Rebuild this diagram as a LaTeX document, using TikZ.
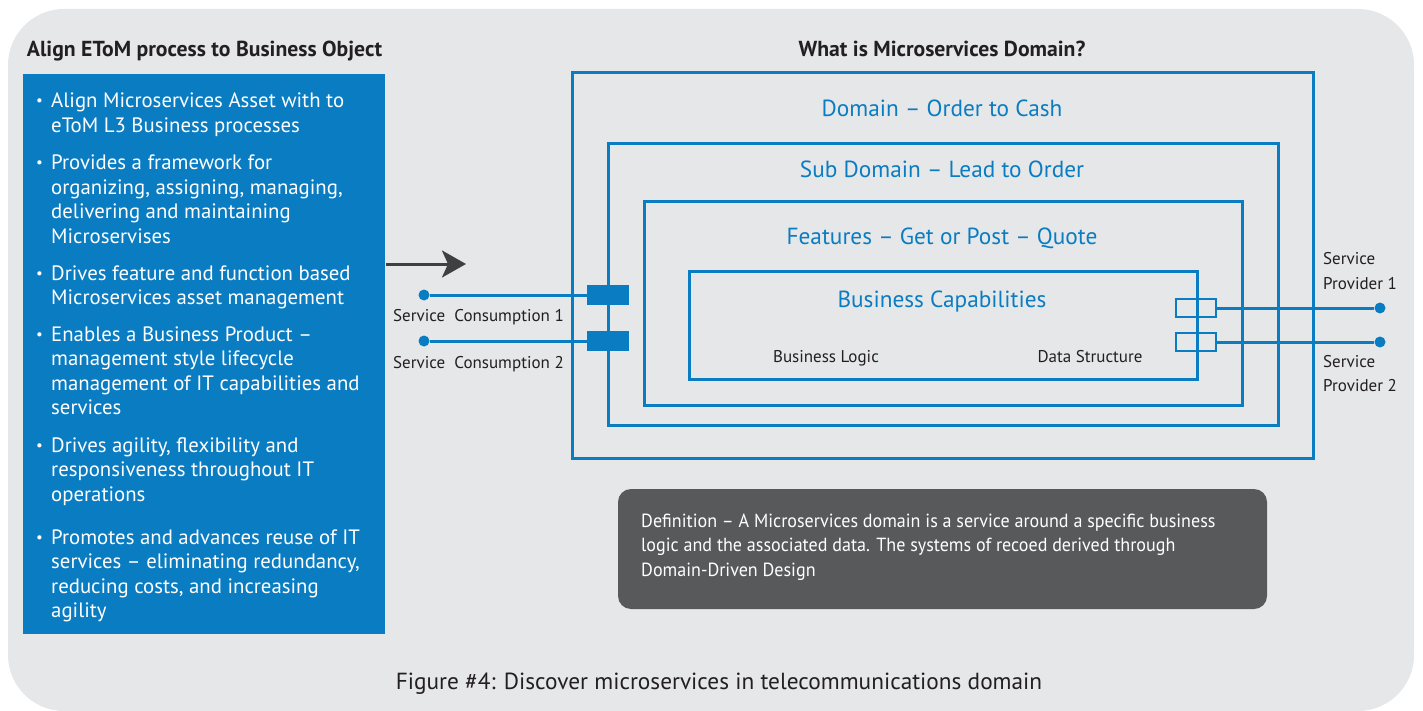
\documentclass[tikz,border=0pt]{standalone}
\usepackage{fontspec}
\setmainfont{PT Sans}
\newfontfamily\condensed{PT Sans}[FakeStretch=0.95]
\usetikzlibrary{arrows.meta}

\definecolor{bgc}{HTML}{E6E7E8}
\definecolor{mblue}{HTML}{0A7CC2}
\definecolor{ink}{HTML}{231F20}
\definecolor{arrowc}{HTML}{404041}
\definecolor{defc}{HTML}{58595B}

\tikzset{
  txt/.style={inner sep=0pt, anchor=base west, text=ink},
  bul/.style={txt, text=white, font=\fontsize{20.8}{24.5}\selectfont},
  heading/.style={inner sep=0pt, anchor=base, text=ink, font=\fontsize{21.7}{25}\selectfont\bfseries},
  layerlabel/.style={inner sep=0pt, anchor=base, text=mblue, font=\fontsize{23.3}{28}\selectfont},
  small/.style={txt, font=\fontsize{17}{20}\selectfont},
  deftext/.style={txt, text=white, font=\fontsize{19}{22}\condensed},
  layer/.style={draw=mblue, line width=3pt},
  wire/.style={draw=mblue, line width=3pt},
  enddot/.style={circle, fill=mblue, inner sep=0pt, minimum size=11pt},
  portfill/.style={rectangle, fill=mblue, inner sep=0pt, minimum width=42pt, minimum height=20pt},
  porthollow/.style={rectangle, draw=mblue, line width=2.5pt, inner sep=0pt, minimum width=40pt, minimum height=18pt},
}

\begin{document}
\begin{tikzpicture}[x=1pt, y=-1pt]
\useasboundingbox (0,0) rectangle (1423,711);
% panel background
\fill[bgc, rounded corners=56pt] (8,9) rectangle (1414,711);

% ---------- left column ----------
\node[heading] (lefttitle) at (204.5,57) {Align EToM process to Business Object};
\fill[mblue] (23,74) rectangle (385,634);

\foreach \yy/\tt [count=\i] in {
  108/{Align Microservices Asset with to},
  132.5/{eToM L3 Business processes},
  170/{Provides a framework for},
  194.5/{organizing, assigning, managing,},
  219/{delivering and maintaining},
  243.5/{Microservises},
  280/{Drives feature and function based},
  304.5/{Microservices asset management},
  341/{Enables a Business Product –},
  365.5/{management style lifecycle},
  390/{management of IT capabilities and},
  414.5/{services},
  452/{Drives agility, flexibility and},
  476.5/{responsiveness throughout IT},
  501/{operations},
  544/{Promotes and advances reuse of IT},
  568.5/{services – eliminating redundancy,},
  593/{reducing costs, and increasing},
  617.5/{agility}}
  \node[bul] (line\i) at (51,\yy) {\tt};

\foreach \yy [count=\i] in {108,170,280,341,452,544}
  \node[bul, font=\fontsize{15}{18}\selectfont] (dot\i) at (36,\yy-2) {•};

% flow arrow
\coordinate (arrfrom) at (386,264);
\coordinate (arrto) at (466,264);
\draw[arrowc, line width=3pt, -{Stealth[length=24pt, width=27pt, inset=6pt]}] (arrfrom) -- (arrto);

% ---------- nested domain layers ----------
\node[heading] (righttitle) at (942,57) {What is Microservices Domain?};
\draw[layer] (572,73) rectangle (1313,458);
\draw[layer] (608,144) rectangle (1278,425);
\draw[layer] (644,202) rectangle (1242,405);
\draw[layer] (689,271) rectangle (1197,379);

\node[layerlabel] (domain) at (942,117) {Domain – Order to Cash};
\node[layerlabel] (subdomain) at (942,178) {Sub Domain – Lead to Order};
\node[layerlabel] (features) at (942,244) {Features – Get or Post – Quote};
\node[layerlabel] (capab) at (942,307) {Business Capabilities};
\node[small, anchor=base] (logic) at (826,362) {Business Logic};
\node[small, anchor=base] (datastr) at (1090,362) {Data Structure};

% consumption side
\node[enddot] (sc1) at (424,295) {};
\node[enddot] (sc2) at (424,341) {};
\node[portfill] (in1) at (608,295) {};
\node[portfill] (in2) at (608,341) {};
\draw[wire] (sc1) -- (in1.west);
\draw[wire] (sc2) -- (in2.west);
\node[small] (sclab1) at (393,321) {Service\ \ Consumption 1};
\node[small] (sclab2) at (393,368) {Service\ \ Consumption 2};

% provider side
\node[porthollow] (out1) at (1196,308) {};
\node[porthollow] (out2) at (1196,342) {};
\node[enddot] (sp1) at (1380,308) {};
\node[enddot] (sp2) at (1380,342) {};
\draw[wire] (out1.east) -- (sp1);
\draw[wire] (out2.east) -- (sp2);
\node[small] (splab1a) at (1323,265) {Service};
\node[small] (splab1b) at (1323,289) {Provider 1};
\node[small] (splab2a) at (1323,367) {Service};
\node[small] (splab2b) at (1323,391) {Provider 2};

% definition note
\fill[defc, rounded corners=13pt] (618,489) rectangle (1267,609);
\node[deftext] (def1) at (641,527) {Definition – A Microservices domain is a service around a specific business};
\node[deftext] (def2) at (641,551.5) {logic and the associated data. The systems of recoed derived through};
\node[deftext] (def3) at (641,576) {Domain-Driven Design};

% caption
\node[inner sep=0pt, anchor=base, text=ink, font=\fontsize{23.3}{28}\selectfont] (caption) at (719,689) {Figure \#4: Discover microservices in telecommunications domain};
\end{tikzpicture}
\end{document}
